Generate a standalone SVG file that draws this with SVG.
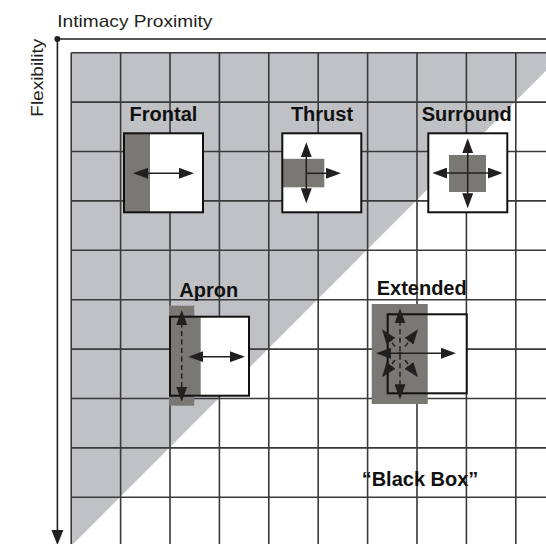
<svg xmlns="http://www.w3.org/2000/svg" width="546" height="544" viewBox="0 0 546 544">
<defs>
<style>
.grid{stroke:#3a3a3a;stroke-width:1.6;fill:none}
.box{fill:#fff}
.outline{fill:none;stroke:#111;stroke-width:2}
.dark{fill:#7a7874}
.arr{stroke:#231f20;stroke-width:1.5;fill:none}
.dash{stroke-dasharray:5 3.5}
.lbl{font-family:"Liberation Sans",Arial,sans-serif;font-weight:bold;font-size:20px;fill:#111;text-anchor:middle}
.ax{font-family:"Liberation Sans",Arial,sans-serif;font-size:16.5px;fill:#231f20}
.axis{stroke:#231f20;stroke-width:1.6;fill:none}
</style>
<marker id="ah" viewBox="0 0 15 11" refX="11" refY="5.5" markerWidth="15" markerHeight="11" markerUnits="userSpaceOnUse" orient="auto-start-reverse">
<path d="M0,0 L15,5.5 L0,11 Z" fill="#231f20"/>
</marker>
</defs>
<rect width="546" height="544" fill="#fff"/>
<g id="background">
<polygon points="71.2,52.7 564,52.7 71.2,546" fill="#c0c1c5"/>
<g class="grid">
<path d="M71.2,52.7V544M120.6,52.7V544M170,52.7V544M219.4,52.7V544M268.8,52.7V544M318.2,52.7V544M367.6,52.7V544M417,52.7V544M466.4,52.7V544M515.8,52.7V544"/>
<path d="M71.2,52.7H546M71.2,102.1H546M71.2,151.5H546M71.2,200.9H546M71.2,250.3H546M71.2,299.7H546M71.2,349.1H546M71.2,398.5H546M71.2,447.9H546M71.2,497.3H546"/>
</g>
</g>
<g id="connectors">
<path class="axis" d="M57.4,39H546M57.4,39V532"/>
<polygon points="51.4,530 63.4,530 57.4,545" fill="#231f20"/>
<circle cx="57.4" cy="39" r="3" fill="#231f20"/>
</g>
<g id="axis-labels">
<text class="ax" x="57.3" y="26.7" textLength="155" lengthAdjust="spacingAndGlyphs">Intimacy Proximity</text>
<text class="ax" transform="translate(43.3,116.7) rotate(-90)" textLength="78" lengthAdjust="spacingAndGlyphs">Flexibility</text>
</g>
<g id="node-frontal">
<text class="lbl" x="163.5" y="121">Frontal</text>
<rect class="box" x="124" y="133.3" width="79" height="79"/>
<rect class="dark" x="124" y="133.3" width="26" height="79"/>
<rect class="outline" x="124" y="133.3" width="79" height="79"/>
<line class="arr" x1="137" y1="173.3" x2="190" y2="173.3" marker-start="url(#ah)" marker-end="url(#ah)"/>
</g>
<g id="node-thrust">
<text class="lbl" x="322" y="121">Thrust</text>
<rect class="box" x="282.3" y="133.3" width="79" height="79"/>
<rect class="dark" x="282.3" y="158.8" width="42" height="28.5"/>
<rect class="outline" x="282.3" y="133.3" width="79" height="79"/>
<line class="arr" x1="306.3" y1="146.3" x2="306.3" y2="199.3" marker-start="url(#ah)" marker-end="url(#ah)"/>
<line class="arr" x1="306.3" y1="173.3" x2="337" y2="173.3" marker-end="url(#ah)"/>
</g>
<g id="node-surround">
<text class="lbl" x="466.7" y="121">Surround</text>
<rect class="box" x="428.3" y="133.3" width="79" height="79"/>
<rect class="dark" x="449" y="155" width="37" height="37"/>
<rect class="outline" x="428.3" y="133.3" width="79" height="79"/>
<line class="arr" x1="467.7" y1="142.3" x2="467.7" y2="204.3" marker-start="url(#ah)" marker-end="url(#ah)"/>
<line class="arr" x1="436.3" y1="173" x2="498.7" y2="173" marker-start="url(#ah)" marker-end="url(#ah)"/>
</g>
<g id="node-apron">
<text class="lbl" x="208.8" y="296.7">Apron</text>
<rect class="box" x="170" y="316.7" width="79" height="79"/>
<rect class="dark" x="169" y="305.7" width="25.3" height="100"/>
<rect class="dark" x="170" y="316.7" width="30.7" height="79"/>
<rect class="outline" x="170" y="316.7" width="79" height="79"/>
<line class="arr dash" x1="181.7" y1="314" x2="181.7" y2="397.7" marker-start="url(#ah)" marker-end="url(#ah)"/>
<line class="arr" x1="192.3" y1="356.7" x2="241" y2="356.7" marker-start="url(#ah)" marker-end="url(#ah)"/>
</g>
<g id="node-extended">
<text class="lbl" x="421.7" y="295">Extended</text>
<rect class="box" x="387.7" y="314.3" width="79" height="79"/>
<rect class="dark" x="371.7" y="304" width="56" height="100"/>
<rect class="outline" x="387.7" y="314.3" width="79" height="79"/>
<line class="arr dash" x1="400" y1="312.3" x2="400" y2="395.3" marker-start="url(#ah)" marker-end="url(#ah)"/>
<line class="arr" x1="380" y1="353.3" x2="452" y2="353.3" marker-start="url(#ah)" marker-end="url(#ah)"/>
<line class="arr dash" x1="395" y1="346.6" x2="384.4" y2="332.5" marker-end="url(#ah)"/>
<line class="arr dash" x1="405" y1="346.6" x2="415.6" y2="332.5" marker-end="url(#ah)"/>
<line class="arr dash" x1="395" y1="360" x2="384.4" y2="374.1" marker-end="url(#ah)"/>
<line class="arr dash" x1="405" y1="360" x2="415.6" y2="374.1" marker-end="url(#ah)"/>
<circle cx="400" cy="353.3" r="1.6" fill="#231f20"/>
</g>
<g id="label-blackbox">
<text class="lbl" x="420" y="485.7">“Black Box”</text>
</g>
</svg>
